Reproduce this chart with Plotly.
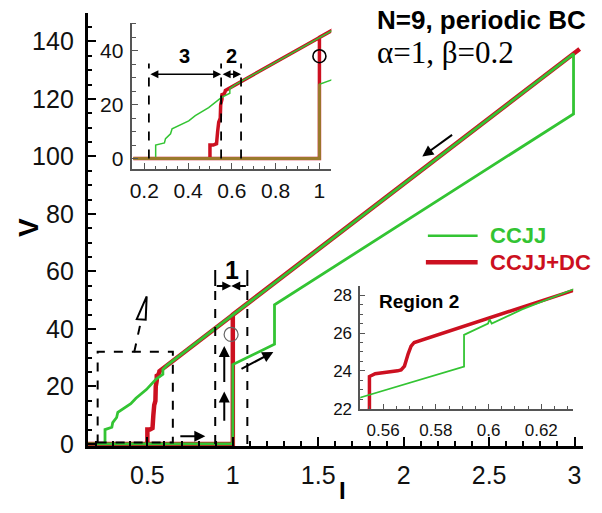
import plotly.graph_objects as go

# ---------------- data ----------------
# CCJJ (green): sweep up along V=0, switch at I=1, resistive branch, sweep back down
ccjj_I = [0.15, 1.0, 1.0, 1.244, 1.244, 2.994, 2.994, 0.632, 0.6127, 0.6012, 0.6004,
          0.5998, 0.5907, 0.5907, 0.5514, 0.547, 0.524, 0.494, 0.433, 0.403, 0.327,
          0.320, 0.297, 0.292, 0.252, 0.252, 0.15]
ccjj_V = [0.0, 0.0, 27.6, 34.7, 48.4, 114.8, 135.7, 28.3, 27.25, 26.5, 26.72,
          26.5, 25.9, 24.23, 22.59, 22.3, 20.7, 18.9, 15.9, 14.0, 11.0,
          9.2, 7.4, 5.8, 5.0, 0.0, 0.0]

# CCJJ+DC (red)
dc_I = [0.15, 1.0, 1.0, 3.03, 0.5718, 0.5706, 0.5695, 0.5681, 0.5668, 0.5655, 0.563,
        0.560, 0.557, 0.5548, 0.5548, 0.549, 0.547, 0.540, 0.535, 0.530, 0.515,
        0.500, 0.500, 0.15]
dc_V = [0.0, 0.0, 45.0, 137.4, 25.5, 25.3, 24.9, 24.25, 24.05, 24.0, 23.95,
        23.9, 23.85, 23.7, 22.0, 20.0, 15.0, 13.5, 10.0, 5.5, 5.0,
        5.0, 0.0, 0.0]

GREEN = "#33c433"
RED = "#cc1020"
OLIVE = "#9a7a2c"
FONT = "Liberation Sans, Arial, Helvetica, sans-serif"

fig = go.Figure()

# main panel
fig.add_trace(go.Scatter(x=dc_I, y=dc_V, mode="lines", line=dict(color=RED, width=4.5),
                         xaxis="x", yaxis="y", showlegend=False))
fig.add_trace(go.Scatter(x=ccjj_I, y=ccjj_V, mode="lines", line=dict(color=GREEN, width=2.8),
                         xaxis="x", yaxis="y", showlegend=False))
# inset 1
fig.add_trace(go.Scatter(x=dc_I, y=dc_V, mode="lines", line=dict(color=RED, width=3.5),
                         xaxis="x2", yaxis="y2", showlegend=False))
fig.add_trace(go.Scatter(x=ccjj_I, y=ccjj_V, mode="lines", line=dict(color=GREEN, width=1.5),
                         xaxis="x2", yaxis="y2", showlegend=False))
fig.add_trace(go.Scatter(x=ccjj_I[:3], y=ccjj_V[:3], mode="lines", line=dict(color=OLIVE, width=3),
                         xaxis="x2", yaxis="y2", showlegend=False))
# inset 2 (Region 2)
fig.add_trace(go.Scatter(x=dc_I, y=dc_V, mode="lines", line=dict(color=RED, width=3.5),
                         xaxis="x3", yaxis="y3", showlegend=False))
fig.add_trace(go.Scatter(x=ccjj_I, y=ccjj_V, mode="lines", line=dict(color=GREEN, width=1.8),
                         xaxis="x3", yaxis="y3", showlegend=False))

W, H = 602, 513


def px_dom(a, b, total):
    return [a / total, b / total]


def ax_style(size, lw, col, tl, mtl, dtick, mdt, rng, dom, anchor, standoff):
    return dict(domain=dom, range=rng, anchor=anchor, showline=True, linecolor=col, linewidth=lw,
                ticks="inside", ticklen=tl, tickwidth=lw * 0.8, tickcolor=col, dtick=dtick, tick0=0,
                minor=dict(dtick=mdt, ticklen=mtl, tickwidth=lw * 0.6, ticks="inside", tickcolor=col),
                tickfont=dict(family=FONT, size=size, color="#111"), showgrid=False, zeroline=False,
                mirror=False, ticklabelstandoff=standoff)


fig.update_layout(
    width=W, height=H, margin=dict(l=0, r=0, t=0, b=0),
    paper_bgcolor="white", plot_bgcolor="rgba(0,0,0,0)",
    xaxis=ax_style(25, 2.5, "black", 9, 5, 0.5, 0.1, [0.15, 3.05], px_dom(85, 583, W), "y", 5),
    yaxis=ax_style(25, 2.5, "black", 9, 5, 20, 5, [-0.8, 150], [(H - 456) / H, (H - 13) / H], "x", 6),
    xaxis2=ax_style(21, 1.6, "#555", 6, 3.5, 0.2, 0.05, [0.1455, 1.0545], px_dom(130, 330, W), "y2", 2),
    yaxis2=ax_style(21, 1.6, "#555", 6, 3.5, 20, 5, [-4, 50.5], [(H - 173) / H, (H - 23) / H], "x2", 3),
    xaxis3=ax_style(17, 1.5, "#555", 5, 3, 0.02, 0.005, [0.5513, 0.6321], px_dom(359, 573, W), "y3", 5),
    yaxis3=ax_style(17, 1.5, "#555", 5, 3, 2, 0.5, [21.98, 28.5], [(H - 418) / H, (H - 292) / H], "x3", 3),
)

shapes = []
dash = dict(color="black", width=2, dash="dash")
# Delta box and pointer
shapes.append(dict(type="rect", xref="x", yref="y", x0=0.209, x1=0.649, y0=0.5, y1=32.1, line=dash))
shapes.append(dict(type="line", xref="x", yref="y", x0=0.4227, y0=31.9, x1=0.461, y1=42.3, line=dash))
shapes.append(dict(type="path", xref="x", yref="y",
                   path="M 0.4378 43.4 L 0.4959 51.3 L 0.4901 43.2 Z",
                   line=dict(color="black", width=2)))
# Region 1 dashed lines + bracket
for xv in (0.897, 1.085):
    shapes.append(dict(type="line", xref="x", yref="y", x0=xv, x1=xv, y0=0, y1=53.4, line=dash))
    shapes.append(dict(type="line", xref="x", yref="y", x0=xv, x1=xv, y0=54.9, y1=60.5,
                       line=dict(color="black", width=2)))
# circles
shapes.append(dict(type="circle", xref="x", yref="y", xsizemode="pixel", ysizemode="pixel",
                   xanchor=0.99, yanchor=38.1, x0=-7, x1=7, y0=-7, y1=7,
                   line=dict(color="#666", width=1.2)))
shapes.append(dict(type="circle", xref="x2", yref="y2", xsizemode="pixel", ysizemode="pixel",
                   xanchor=1.0, yanchor=38.0, x0=-6.5, x1=6.5, y0=-6.5, y1=6.5,
                   line=dict(color="black", width=1.6)))
# inset 1 dashed lines
for xv in (0.221, 0.551, 0.642):
    shapes.append(dict(type="line", xref="x2", yref="y2", x0=xv, x1=xv, y0=0, y1=35.3,
                       line=dict(color="black", width=1.8, dash="dash")))
# legend line samples
shapes.append(dict(type="line", xref="paper", yref="paper", x0=427 / W, x1=477 / W,
                   y0=(H - 241) / H, y1=(H - 241) / H, line=dict(color=GREEN, width=2.5)))
shapes.append(dict(type="line", xref="paper", yref="paper", x0=425 / W, x1=477 / W,
                   y0=(H - 268) / H, y1=(H - 268) / H, line=dict(color=RED, width=4.5)))
fig.update_layout(shapes=shapes)

ann = []


def arrow(x, y, ax, ay, xr="x", yr="y", side="end", w=2, size=1.1):
    ann.append(dict(x=x, y=y, ax=ax, ay=ay, xref=xr, yref=yr, axref=xr, ayref=yr, text="",
                    showarrow=True, arrowhead=2, arrowsize=size, arrowwidth=w,
                    arrowcolor="black", arrowside=side, startarrowhead=2, startarrowsize=size))


arrow(0.839, 2.7, 0.684, 2.7)
arrow(0.95, 18.2, 0.95, 7.5)
arrow(0.95, 34.1, 0.95, 21.0)
arrow(1.237, 32.0, 1.042, 25.8)
arrow(2.109, 100.0, 2.292, 107.9)
arrow(0.991, 54.9, 0.897, 54.9, w=2, size=0.9)
arrow(0.991, 54.9, 1.085, 54.9, w=2, size=0.9)
arrow(0.551, 31.3, 0.221, 31.3, xr="x2", yr="y2", side="end+start", w=1.6, size=1.0)
arrow(0.642, 31.3, 0.551, 31.3, xr="x2", yr="y2", side="end+start", w=1.6, size=1.0)


def text(t, x, y, size, color="black", bold=True, xanchor="center", family=FONT, angle=0):
    ann.append(dict(text=("<b>%s</b>" % t) if bold else t, x=x / W, y=(H - y) / H, xref="paper",
                    yref="paper", showarrow=False, xanchor=xanchor, yanchor="middle",
                    textangle=angle, font=dict(family=family, size=size, color=color)))


text("1", 230, 276, 25)
text("3", 182, 57, 20)
text("2", 230, 57, 20)
text("N=9, periodic BC", 374, 20, 26, xanchor="left")
text("\u03b1=1, \u03b2=0.2", 374, 54, 31, bold=False, xanchor="left",
     family="Liberation Serif, Times New Roman, serif")
text("CCJJ", 487, 241, 22, color=GREEN, xanchor="left")
text("CCJJ+DC", 487, 268, 22, color=RED, xanchor="left")
text("Region 2", 376, 308, 19, xanchor="left")
text("V", 25, 232, 28, angle=-90)
text("I", 341, 501, 24)
fig.update_layout(annotations=ann)

fig.write_html("out.html")
